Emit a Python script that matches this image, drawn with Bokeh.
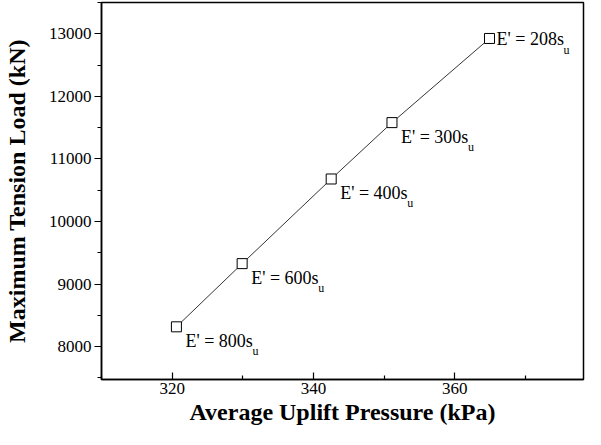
from bokeh.plotting import figure
from bokeh.models import ColumnDataSource, FixedTicker, Range1d
from bokeh.core.properties import value
from bokeh.embed import file_html
from bokeh.resources import INLINE

# data
pressure = [320.6, 329.9, 342.5, 351.1, 364.9]
tension = [8316, 9326, 10679, 11580, 12925]
labels = ["E' = 800s", "E' = 600s", "E' = 400s", "E' = 300s", "E' = 208s"]
subs = ["u", "u", "u", "u", "u"]
x_ticks = [320, 340, 360]
y_ticks = [8000, 9000, 10000, 11000, 12000, 13000]

FONT = "Liberation Serif"

p = figure(width=585, height=429, output_backend="svg", toolbar_location=None,
           x_range=Range1d(310, 378.2), y_range=Range1d(7474, 13500),
           min_border_left=93, min_border_right=2, min_border_top=2, min_border_bottom=50)
p.grid.visible = False
p.outline_line_color = "black"
p.outline_line_width = 1.5
p.background_fill_color = "white"
p.border_fill_color = "white"

p.xaxis.ticker = FixedTicker(ticks=x_ticks, minor_ticks=[310, 330, 350, 370])
p.yaxis.ticker = FixedTicker(ticks=y_ticks, minor_ticks=[7500, 8500, 9500, 10500, 11500, 12500, 13500])

for ax in (p.xaxis[0], p.yaxis[0]):
    ax.axis_line_color = "black"
    ax.axis_line_width = 1.5
    ax.major_tick_line_color = "black"
    ax.minor_tick_line_color = "black"
    ax.major_tick_line_width = 1.2
    ax.minor_tick_line_width = 1.2
    ax.major_label_text_font = FONT
    ax.major_label_text_font_size = "17px"
    ax.major_label_text_color = "black"
    ax.axis_label_text_font = FONT
    ax.axis_label_text_font_style = "bold"
    ax.axis_label_text_font_size = "24px"
    ax.axis_label_text_color = "black"

p.xaxis.major_tick_in = 7
p.xaxis.major_tick_out = 0
p.xaxis.minor_tick_in = 4
p.xaxis.minor_tick_out = 0
p.xaxis.major_label_standoff = 3
p.xaxis.axis_label_standoff = 2
p.xaxis.axis_label = "Average Uplift Pressure (kPa)"

p.yaxis.major_tick_in = 0
p.yaxis.major_tick_out = 7
p.yaxis.minor_tick_in = 0
p.yaxis.minor_tick_out = 4
p.yaxis.major_label_standoff = 3
p.yaxis.axis_label_standoff = 16
p.yaxis.axis_label = "Maximum Tension Load (kN)"

src = ColumnDataSource(dict(x=pressure, y=tension, lab=labels, sub=subs))
p.line("x", "y", source=src, line_color="black", line_width=0.8)
p.scatter("x", "y", source=src, marker="square", size=10, fill_color="white",
          line_color="black", line_width=1)

# labels: first four below-right, last to the right
n = len(pressure)
below = ColumnDataSource(dict(x=pressure[:n - 1], y=tension[:n - 1], lab=labels[:n - 1], sub=subs[:n - 1]))
right = ColumnDataSource(dict(x=pressure[n - 1:], y=tension[n - 1:], lab=labels[n - 1:], sub=subs[n - 1:]))

p.text("x", "y", text="lab", source=below, x_offset=9, y_offset=4,
       text_font=value(FONT), text_font_size="18px", text_baseline="top", text_color="black")
p.text("x", "y", text="sub", source=below, x_offset=76, y_offset=24,
       text_font=value(FONT), text_font_size="12px", text_baseline="middle", text_color="black")
p.text("x", "y", text="lab", source=right, x_offset=7, y_offset=1,
       text_font=value(FONT), text_font_size="18px", text_baseline="middle", text_color="black")
p.text("x", "y", text="sub", source=right, x_offset=74, y_offset=12,
       text_font=value(FONT), text_font_size="12px", text_baseline="middle", text_color="black")

open("out.html", "w").write(file_html(p, INLINE))
